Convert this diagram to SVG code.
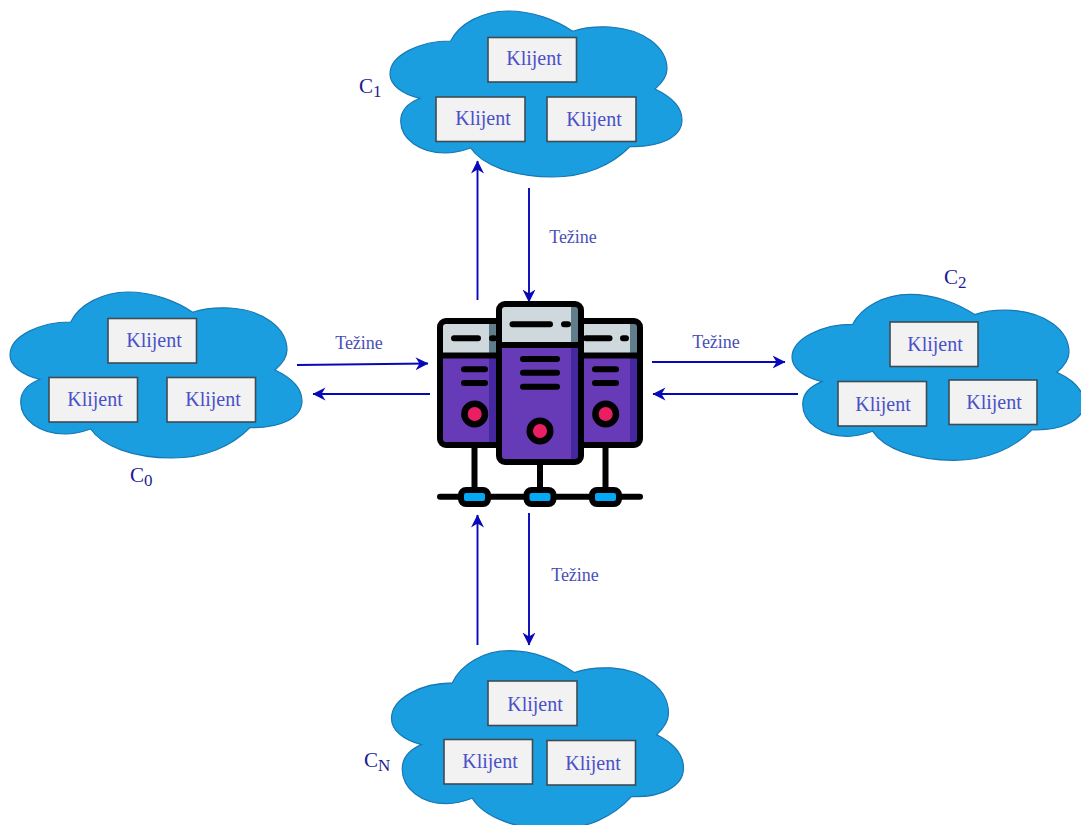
<svg xmlns="http://www.w3.org/2000/svg" width="1081" height="825" viewBox="0 0 1081 825">
<style>
.cloud{fill:#1a9ee0;stroke:#1878b4;stroke-width:1.2}
.box{fill:#f2f2f2;stroke:#3f4a52;stroke-width:1.6}
.kl{font-family:"Liberation Serif",serif;font-size:20px;fill:#4a50c8;text-anchor:middle}
.lab{font-family:"Liberation Serif",serif;font-size:18px;fill:#4a50b8;text-anchor:middle}
.c{font-family:"Liberation Serif",serif;font-size:21px;fill:#1c1c90}
.c tspan{font-size:17px}
.arr{fill:none;stroke:#0808b8;stroke-width:1.9;marker-end:url(#ah)}
.k{fill:none;stroke:#000;stroke-width:6;stroke-linecap:round;stroke-linejoin:round}
.m{fill:none;stroke:#000;stroke-width:6;stroke-linecap:round}
.dot{fill:#e91e63;stroke:#000;stroke-width:6.500}
</style>
<defs>
<marker id="ah" markerUnits="userSpaceOnUse" markerWidth="14" markerHeight="14" refX="12.500" refY="6.500" orient="auto"><path d="M0 0L13 6.500L0 13L4 6.500Z" fill="#0808b8"/></marker>
<path id="cl" class="cloud" d="M450.700 41C459 24 482 11 508 11C532 11 556 20 572.700 31.300C585 27 598 26.500 610 27C643 29 667 47 667 69C667 76 662 83 655 89C672 97 682 107 682 120C682 137 660 147.500 630 146.500C612 165 585 177 552 177C513 177 482 165 470.700 148C462 151 455 153 445 153C420 153 400.700 139 400.700 121C400.700 111 408 103 420 98.300C402 94 390 85 390 74C390 55 420 41 450.700 41Z"/>
</defs>

<g id="node-c1">
<use href="#cl"/>
<rect class="box" x="488" y="37.500" width="88.500" height="44.500"/><text class="kl" x="534" y="65">Klijent</text>
<rect class="box" x="436" y="97" width="89" height="44.500"/><text class="kl" x="483" y="125">Klijent</text>
<rect class="box" x="547" y="97" width="89" height="44.500"/><text class="kl" x="594" y="126">Klijent</text>
<text class="c" x="359" y="93">C<tspan dy="4">1</tspan></text>
</g>

<g id="node-c0">
<use href="#cl" transform="translate(-380 281)"/>
<rect class="box" x="108" y="318.500" width="88.500" height="44.500"/><text class="kl" x="154" y="347">Klijent</text>
<rect class="box" x="49" y="377.500" width="88.500" height="44.500"/><text class="kl" x="95" y="406">Klijent</text>
<rect class="box" x="167" y="377.500" width="88.500" height="44.500"/><text class="kl" x="213" y="406">Klijent</text>
<text class="c" x="130" y="482">C<tspan dy="4">0</tspan></text>
</g>

<g id="node-c2">
<use href="#cl" transform="translate(402 283.300)"/>
<rect class="box" x="890" y="322" width="88" height="44.500"/><text class="kl" x="935" y="351">Klijent</text>
<rect class="box" x="838" y="381.500" width="88.500" height="44.500"/><text class="kl" x="883" y="411">Klijent</text>
<rect class="box" x="949" y="380" width="88" height="44.500"/><text class="kl" x="994" y="409">Klijent</text>
<text class="c" x="944" y="284">C<tspan dy="4">2</tspan></text>
</g>

<g id="node-cn">
<use href="#cl" transform="translate(1.500 638.850) scale(1 1.077)"/>
<rect class="box" x="488" y="681" width="89" height="44.500"/><text class="kl" x="535" y="711">Klijent</text>
<rect class="box" x="444" y="739.500" width="88.500" height="44.500"/><text class="kl" x="490" y="768">Klijent</text>
<rect class="box" x="547" y="740.500" width="88.500" height="44.500"/><text class="kl" x="593" y="770">Klijent</text>
<text class="c" x="364" y="767">C<tspan dy="4">N</tspan></text>
</g>

<g id="connectors">
<path class="arr" d="M477.500 300V161"/>
<path class="arr" d="M529 188V302"/>
<path class="arr" d="M297 365L428 363.500"/>
<path class="arr" d="M430 394H313"/>
<path class="arr" d="M652 362H785"/>
<path class="arr" d="M798 394H653"/>
<path class="arr" d="M477.500 645V515"/>
<path class="arr" d="M529 513V645"/>
</g>

<g id="labels">
<text class="lab" x="573" y="242.500">Težine</text>
<text class="lab" x="359" y="349">Težine</text>
<text class="lab" x="716" y="348">Težine</text>
<text class="lab" x="575" y="581">Težine</text>
</g>

<g id="node-server">
<path class="k" d="M440 496.700H640"/>
<path class="k" d="M474.500 445V490M540 462V490M605.500 445V490"/>
<g id="left-unit">
<rect x="440" y="321" width="62" height="124" rx="6" fill="#673ab7"/>
<rect x="440" y="321" width="62" height="34" fill="#cfd8dc"/>
<rect x="489" y="321" width="13" height="34" fill="#607d8b"/>
<rect x="489" y="355" width="13" height="90" fill="#4527a0"/>
<rect class="k" x="440" y="321" width="62" height="124" rx="6"/>
<path class="k" d="M440 355.500H500"/>
<path class="m" d="M454 338.300H478M492 338.300H494M464 369.300H485M464 383H485"/>
<circle class="dot" cx="474.700" cy="414" r="10.300"/>
</g>
<g id="right-unit">
<rect x="578" y="321" width="62" height="124" rx="6" fill="#673ab7"/>
<rect x="578" y="321" width="62" height="34" fill="#cfd8dc"/>
<rect x="630" y="321" width="10" height="34" fill="#607d8b"/>
<rect x="630" y="355" width="10" height="90" fill="#4527a0"/>
<rect class="k" x="578" y="321" width="62" height="124" rx="6"/>
<path class="k" d="M580 355.500H640"/>
<path class="m" d="M586 338.300H609.500M623 338.300H626M595 369.300H616M595 383H616"/>
<circle class="dot" cx="605.700" cy="414" r="10.300"/>
</g>
<g id="middle-unit">
<rect x="499" y="304" width="82" height="158" rx="6" fill="#673ab7"/>
<rect x="499" y="304" width="82" height="41" fill="#cfd8dc"/>
<rect x="571" y="304" width="10" height="41" fill="#607d8b"/>
<rect x="571" y="345" width="10" height="117" fill="#4527a0"/>
<rect class="k" x="499" y="304" width="82" height="158" rx="6"/>
<path class="k" d="M499 345H581"/>
<path class="m" d="M512.500 324.300H550M564 324.300H568M523 359H557M523 372.700H557M523 386.700H557"/>
<circle class="dot" cx="540" cy="431" r="10.300"/>
</g>
<g id="nics" stroke="#000" stroke-width="6" fill="#03a9f4">
<rect x="461" y="490" width="27" height="14" rx="5"/>
<rect x="526.500" y="490" width="27" height="14" rx="5"/>
<rect x="592" y="490" width="27" height="14" rx="5"/>
</g>
</g>
</svg>
